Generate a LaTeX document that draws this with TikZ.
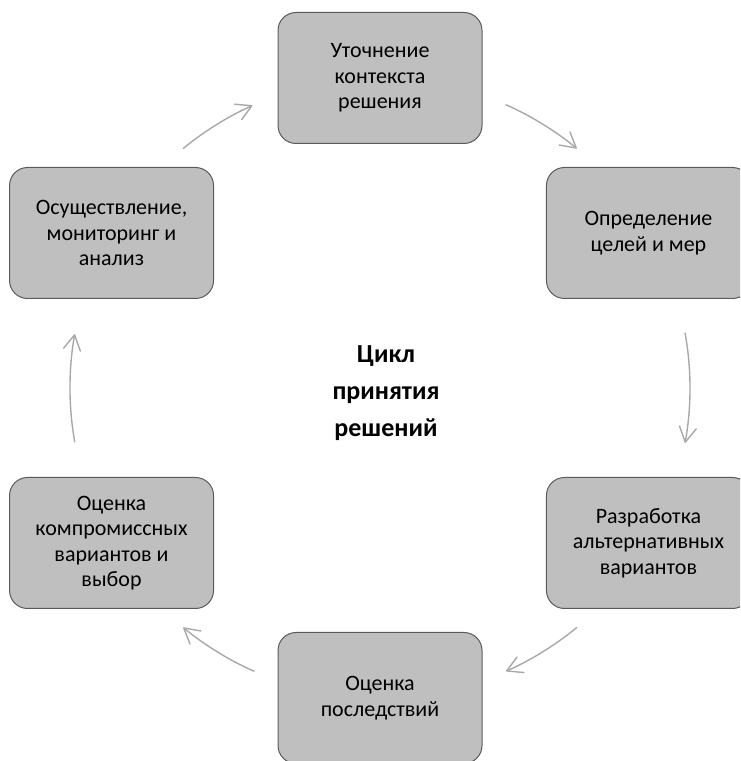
\documentclass[tikz,border=0pt]{standalone}
\usepackage{fontspec}
\setmainfont{Carlito}
\usetikzlibrary{arrows.meta}
\definecolor{boxfill}{RGB}{191,191,191}
\definecolor{boxline}{RGB}{90,90,90}
\definecolor{arrowline}{RGB}{168,168,168}
\begin{document}
\begin{tikzpicture}[x=1pt,y=1pt,
  stage/.style={draw=boxline, line width=1pt, fill=boxfill, rounded corners=18pt,
    minimum width=204pt, minimum height=131pt, align=center, inner sep=0pt,
    font=\fontsize{22}{25.5}\selectfont},
  cyclearrow/.style={draw=arrowline, line width=1.4pt, line cap=round,
    -{Straight Barb[length=15pt,width=17pt,line cap=round,round]}}]
\useasboundingbox (0,0) rectangle (740,761);
\clip (0,0) rectangle (740,761);
% centre of the cycle; stages sit on a circle of radius 310
\coordinate (O) at (380,373);

\node[stage] (s1) at ([shift={(90:310)}]O) {Уточнение\\контекста\\решения};
\node[stage] (s2) at ([shift={(30:310)}]O) {Определение\\целей и мер};
\node[stage] (s3) at ([shift={(-30:310)}]O) {Разработка\\альтернативных\\вариантов};
\node[stage] (s4) at ([shift={(-90:310)}]O) {Оценка\\последствий};
\node[stage] (s5) at ([shift={(-150:310)}]O) {Оценка\\компромиссных\\вариантов и\\выбор};
\node[stage] (s6) at ([shift={(150:310)}]O) {Осуществление,\\мониторинг и\\анализ};

\node[font=\bfseries\fontsize{26}{37}\selectfont, align=center] (title) at (386,368)
  {Цикл\\принятия\\решений};

% arcs between the stages, running clockwise
\coordinate (a1) at ([shift={(129.4:310)}]O);
\coordinate (a2) at ([shift={(66:310)}]O);
\coordinate (a3) at ([shift={(10.2:310)}]O);
\coordinate (a4) at ([shift={(-50.6:310)}]O);
\coordinate (a5) at ([shift={(-114:310)}]O);
\coordinate (a6) at ([shift={(190:310)}]O);
\draw[cyclearrow] (a1) arc[start angle=129.4, end angle=114.3, radius=310];
\draw[cyclearrow] (a2) arc[start angle=66, end angle=50.6, radius=310];
\draw[cyclearrow] (a3) arc[start angle=10.2, end angle=-10.2, radius=310];
\draw[cyclearrow] (a4) arc[start angle=-50.6, end angle=-66, radius=310];
\draw[cyclearrow] (a5) arc[start angle=-114, end angle=-129.4, radius=310];
\draw[cyclearrow] (a6) arc[start angle=190, end angle=170, radius=310];
\end{tikzpicture}
\end{document}
